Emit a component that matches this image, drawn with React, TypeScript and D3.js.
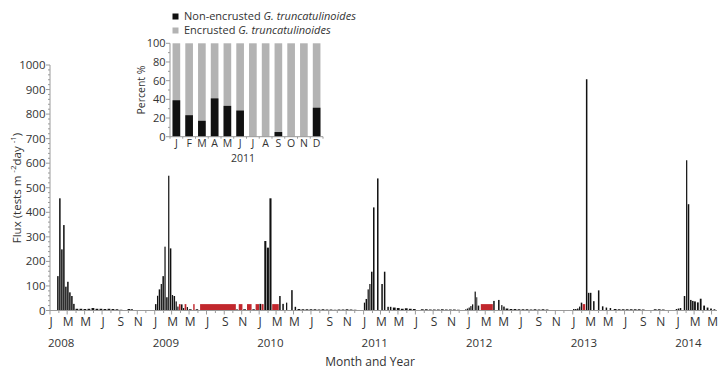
import React from "react";
import * as d3 from "d3";

// [cup open date, days open, flux (tests m^-2 day^-1)]
type Cup = [string, number, number];

const cups2008: Cup[] = [
  ["2008-01-25", 7, 140], ["2008-02-01", 7, 457], ["2008-02-08", 7, 249],
  ["2008-02-15", 7, 348], ["2008-02-22", 7, 97], ["2008-02-29", 7, 117],
  ["2008-03-07", 7, 74], ["2008-03-14", 7, 59], ["2008-03-21", 7, 27],
  ["2008-03-28", 14, 7], ["2008-04-11", 14, 7], ["2008-04-25", 14, 6],
  ["2008-05-09", 14, 7], ["2008-05-23", 14, 10], ["2008-06-06", 14, 7],
  ["2008-06-20", 14, 7], ["2008-07-04", 14, 6], ["2008-07-18", 14, 7],
  ["2008-08-01", 14, 6], ["2008-08-15", 14, 5], ["2008-08-29", 14, 3],
  ["2008-09-26", 14, 6], ["2008-10-10", 7, 6],
];

const cups2009: Cup[] = [
  ["2009-01-01", 7, 26], ["2009-01-08", 6, 60], ["2009-01-14", 7, 86],
  ["2009-01-21", 6, 108], ["2009-01-27", 7, 140], ["2009-02-03", 6, 260],
  ["2009-02-09", 7, 54], ["2009-02-16", 6, 549], ["2009-02-22", 7, 253],
  ["2009-03-01", 6, 63], ["2009-03-07", 7, 59], ["2009-03-14", 6, 37],
  ["2009-03-20", 6, 16], ["2009-04-02", 7, 25], ["2009-04-09", 6, 10],
  ["2009-04-22", 6, 14], ["2009-04-28", 14, 5], ["2009-05-22", 13, 5],
  ["2009-10-12", 7, 5], ["2009-11-04", 14, 5], ["2009-12-06", 13, 5],
];

const cups2010: Cup[] = [
  ["2010-01-01", 8, 27], ["2010-01-18", 9, 283], ["2010-01-27", 9, 256],
  ["2010-02-05", 9, 457], ["2010-03-11", 7, 59], ["2010-03-22", 7, 27],
  ["2010-04-04", 6, 32], ["2010-04-22", 7, 83], ["2010-05-04", 7, 15],
  ["2010-05-13", 14, 6], ["2010-05-27", 14, 5], ["2010-06-10", 14, 5],
  ["2010-06-24", 14, 5], ["2010-07-08", 14, 5], ["2010-07-22", 14, 4],
  ["2010-08-05", 14, 5], ["2010-08-19", 14, 4], ["2010-09-02", 14, 4],
  ["2010-09-16", 14, 3], ["2010-09-30", 14, 4], ["2010-10-14", 14, 4],
  ["2010-10-28", 14, 5], ["2010-11-11", 14, 4], ["2010-11-25", 14, 3],
];

const cups2011: Cup[] = [
  ["2011-01-01", 6, 32], ["2011-01-07", 7, 47], ["2011-01-14", 6, 86],
  ["2011-01-20", 6, 108], ["2011-01-26", 7, 158], ["2011-02-02", 7, 420],
  ["2011-02-16", 7, 538], ["2011-03-03", 7, 108], ["2011-03-12", 7, 158],
  ["2011-03-24", 7, 15], ["2011-04-02", 7, 15],
  ["2011-04-11", 14, 12], ["2011-04-25", 14, 10], ["2011-05-09", 14, 7],
  ["2011-05-23", 14, 9], ["2011-06-06", 14, 7], ["2011-06-20", 14, 6],
  ["2011-07-18", 14, 5], ["2011-08-01", 14, 5], ["2011-08-15", 14, 4],
  ["2011-08-29", 14, 4], ["2011-09-12", 14, 4], ["2011-09-26", 14, 5],
  ["2011-10-10", 14, 4], ["2011-10-24", 14, 4], ["2011-11-07", 14, 4],
  ["2011-11-21", 14, 3], ["2011-12-21", 6, 5], ["2011-12-27", 6, 8],
];

const cups2012: Cup[] = [
  ["2012-01-02", 6, 12], ["2012-01-08", 6, 18], ["2012-01-14", 6, 25],
  ["2012-01-23", 6, 77], ["2012-01-29", 5, 54], ["2012-02-03", 7, 20],
  ["2012-03-28", 7, 39], ["2012-04-14", 7, 43], ["2012-04-25", 6, 22],
  ["2012-05-02", 7, 16],
  ["2012-05-09", 14, 8], ["2012-05-23", 14, 6], ["2012-06-06", 14, 6],
  ["2012-06-20", 14, 5], ["2012-07-04", 14, 5], ["2012-07-18", 14, 5],
  ["2012-08-01", 14, 4], ["2012-08-15", 14, 5], ["2012-08-29", 14, 4],
  ["2012-09-12", 14, 5], ["2012-09-26", 14, 4],
];

const cups2013: Cup[] = [
  ["2013-01-01", 7, 6], ["2013-01-08", 7, 6], ["2013-01-15", 7, 8],
  ["2013-01-22", 6, 16], ["2013-01-28", 7, 32], ["2013-02-15", 7, 942],
  ["2013-02-22", 7, 72], ["2013-03-01", 7, 72], ["2013-03-12", 7, 38],
  ["2013-03-29", 7, 82], ["2013-04-12", 7, 17], ["2013-04-25", 7, 12],
  ["2013-05-09", 7, 10],
  ["2013-05-22", 14, 6], ["2013-06-05", 14, 5], ["2013-06-19", 14, 5],
  ["2013-07-03", 14, 5], ["2013-07-17", 14, 5], ["2013-07-31", 14, 5],
  ["2013-08-14", 14, 5], ["2013-08-28", 14, 4],
  ["2013-10-09", 14, 5], ["2013-10-23", 14, 5], ["2013-11-06", 14, 4],
  ["2013-12-26", 7, 6],
];

const cups2014: Cup[] = [
  ["2014-01-02", 7, 8], ["2014-01-09", 7, 10], ["2014-01-23", 7, 59],
  ["2014-01-31", 6, 612], ["2014-02-06", 7, 433], ["2014-02-14", 7, 43],
  ["2014-02-21", 7, 39], ["2014-02-28", 8, 37], ["2014-03-10", 8, 33],
  ["2014-03-20", 8, 48], ["2014-04-01", 8, 20], ["2014-04-13", 8, 12],
  ["2014-04-25", 8, 8], ["2014-05-07", 8, 5],
];

// Intervals flagged in red along the baseline
const redCups: Cup[] = [
  ["2009-03-26", 7, 26], ["2009-04-15", 7, 26], ["2009-05-15", 6, 26],
  ["2009-06-08", 126, 26], ["2009-10-21", 14, 26], ["2009-11-19", 17, 26],
  ["2009-12-19", 13, 26], ["2010-01-09", 8, 26], ["2010-02-15", 24, 26],
  ["2012-02-14", 43, 26], ["2013-02-04", 10, 26],
];

const years = [2008, 2009, 2010, 2011, 2012, 2013, 2014];
const monthLetters = ["J", "M", "M", "J", "S", "N"];
const fluxTicks = [0, 100, 200, 300, 400, 500, 600, 700, 800, 900, 1000];

// Inset: 2011 share of non-encrusted shells
const insetMonths = ["J", "F", "M", "A", "M", "J", "J", "A", "S", "O", "N", "D"];
const nonEncrustedPct = [39, 23, 17, 41, 33, 28, 0, 0, 5, 0, 0, 31];
const pctTicks = [0, 20, 40, 60, 80, 100];

const FONT = "'Open Sans', Lato, sans-serif";
const TEXT = "#333";
const AXIS = "#9a9a9a";
const RED = "#c1272d";
const GREY = "#b3b3b3";

const parse = d3.timeParse("%Y-%m-%d");

export default function App() {
  const x = d3
    .scaleTime()
    .domain([new Date(2008, 0, 1), new Date(2014, 4, 20)])
    .range([50, 717]);
  const y = d3.scaleLinear().domain([0, 1000]).range([310.5, 65]);

  const allCups = [
    ...cups2008, ...cups2009, ...cups2010, ...cups2011,
    ...cups2012, ...cups2013, ...cups2014,
  ];

  const bar = (c: Cup, fill: string, gap: number, key: string) => {
    const [open, days, v] = c;
    if (v <= 0) return null;
    const d0 = parse(open)!;
    const d1 = d3.timeDay.offset(d0, days);
    const x0 = x(d0);
    const x1 = x(d1);
    const w = Math.max(x1 - x0 - gap, 0.9);
    return (
      <rect key={key} x={x0 + gap / 2} y={y(v)} width={w} height={y(0) - y(v)} fill={fill} />
    );
  };

  const minorY = d3.range(0, 1001, 20).filter((v) => v % 100 !== 0);
  const months = d3.timeMonth.range(x.domain()[0], x.domain()[1]);

  // inset scales
  const xi = d3
    .scaleBand<number>()
    .domain(d3.range(12))
    .range([170, 323])
    .paddingInner(0.4)
    .paddingOuter(0.2);
  const yi = d3.scaleLinear().domain([0, 100]).range([136.7, 43.3]);

  return (
    <svg
      width={718}
      height={370}
      style={{ position: "absolute", left: 0, top: 0, background: "#fff" }}
      fontFamily={FONT}
    >
      {/* flux bars */}
      <g>
        {allCups.map((c, i) => bar(c, "#111", c[1] > 10 ? 1.2 : 0.5, "b" + i))}
        {redCups.map((c, i) => bar(c, RED, 0.3, "r" + i))}
      </g>

      {/* y axis */}
      <g stroke={AXIS} strokeWidth={1}>
        <line x1={50} x2={50} y1={y(1000)} y2={y(0)} />
        {fluxTicks.map((t) => (
          <line key={t} x1={46} x2={50} y1={y(t)} y2={y(t)} />
        ))}
        {minorY.map((t) => (
          <line key={"m" + t} x1={48} x2={50} y1={y(t)} y2={y(t)} />
        ))}
      </g>
      <g fill={TEXT} fontSize={11.5} textAnchor="end">
        {fluxTicks.map((t) => (
          <text key={t} x={45.5} y={y(t) + 4}>
            {t}
          </text>
        ))}
      </g>
      <text
        transform={`translate(21,${188}) rotate(-90)`}
        textAnchor="middle"
        fontSize={11.5}
        fill={TEXT}
      >
        Flux (tests m <tspan fontSize={8} dy={-5}>-2</tspan>
        <tspan dy={5}>day </tspan>
        <tspan fontSize={8} dy={-5}>-1</tspan>
        <tspan dy={5}>)</tspan>
      </text>

      {/* x axis */}
      <g stroke={AXIS} strokeWidth={1}>
        <line x1={50} x2={717} y1={310.5} y2={310.5} />
        {months.map((m, i) => (
          <line
            key={i}
            x1={x(m)}
            x2={x(m)}
            y1={310.5}
            y2={m.getMonth() % 2 === 0 ? 314.5 : 313}
          />
        ))}
      </g>
      <g fill={TEXT} fontSize={12} textAnchor="middle">
        {years.flatMap((yr) =>
          monthLetters.map((l, k) => {
            const d = new Date(yr, k * 2, 1);
            if (d > x.domain()[1]) return null;
            return (
              <text key={yr + "-" + k} x={x(d) + 1} y={326}>
                {l}
              </text>
            );
          })
        )}
      </g>
      <g fill={TEXT} fontSize={11.5}>
        {years.map((yr) => (
          <text key={yr} x={x(new Date(yr, 0, 1)) - 2} y={347}>
            {yr}
          </text>
        ))}
      </g>
      <text x={370} y={366} textAnchor="middle" fontSize={12} fill={TEXT}>
        Month and Year
      </text>

      {/* inset */}
      <g>
        {nonEncrustedPct.map((v, i) => (
          <g key={i}>
            <rect
              x={xi(i)}
              y={yi(100)}
              width={xi.bandwidth()}
              height={yi(0) - yi(100)}
              fill={GREY}
            />
            {v > 0 && (
              <rect
                x={xi(i)}
                y={yi(v)}
                width={xi.bandwidth()}
                height={yi(0) - yi(v)}
                fill="#111"
              />
            )}
          </g>
        ))}
      </g>
      <g stroke={AXIS} strokeWidth={1}>
        <line x1={170} x2={170} y1={yi(100)} y2={yi(0)} />
        <line x1={170} x2={323} y1={yi(0)} y2={yi(0)} />
        {pctTicks.map((t) => (
          <line key={t} x1={166} x2={170} y1={yi(t)} y2={yi(t)} />
        ))}
        {d3.range(10, 100, 20).map((t) => (
          <line key={"m" + t} x1={168} x2={170} y1={yi(t)} y2={yi(t)} />
        ))}
        {d3.range(13).map((i) => {
          const bx = 170 + (i * (323 - 170)) / 12;
          return <line key={"xt" + i} x1={bx} x2={bx} y1={yi(0)} y2={yi(0) + 2} />;
        })}
      </g>
      <g fill={TEXT} fontSize={11} textAnchor="end">
        {pctTicks.map((t) => (
          <text key={t} x={165.5} y={yi(t) + 4}>
            {t}
          </text>
        ))}
      </g>
      <g fill={TEXT} fontSize={10.5} textAnchor="middle">
        {insetMonths.map((m, i) => (
          <text key={i} x={xi(i)! + xi.bandwidth() / 2} y={146.5}>
            {m}
          </text>
        ))}
      </g>
      <text x={243} y={161.5} textAnchor="middle" fontSize={10.5} fill={TEXT}>
        2011
      </text>
      <text
        transform="translate(145,90) rotate(-90)"
        textAnchor="middle"
        fontSize={10.5}
        fill={TEXT}
      >
        Percent %
      </text>

      {/* legend */}
      <rect x={172.5} y={13.5} width={6} height={6} fill="#111" />
      <text x={184} y={20} fontSize={11} fill={TEXT}>
        Non-encrusted <tspan fontStyle="italic">G. truncatulinoides</tspan>
      </text>
      <rect x={172.5} y={27.5} width={6} height={6} fill={GREY} />
      <text x={184} y={34} fontSize={11} fill={TEXT}>
        Encrusted <tspan fontStyle="italic">G. truncatulinoides</tspan>
      </text>
    </svg>
  );
}
